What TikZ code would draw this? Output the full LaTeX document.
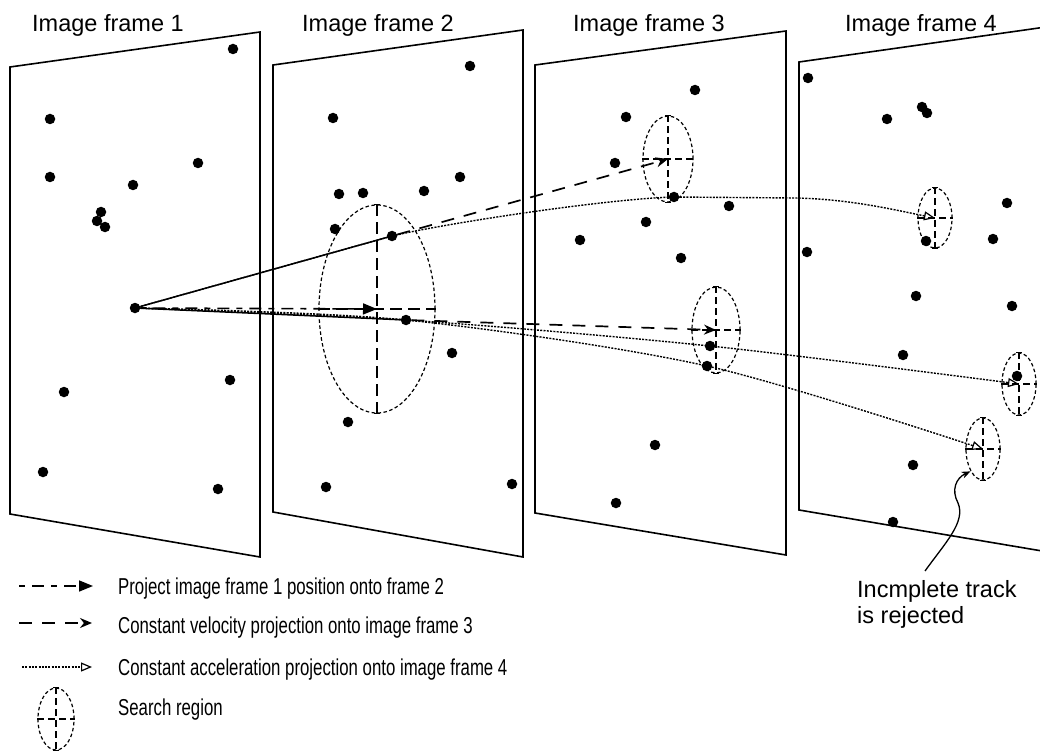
\documentclass[tikz,border=0pt]{standalone}
\usepackage{fontspec}
\setmainfont{Liberation Sans}
\newfontfamily\legendfont[FakeStretch=0.73]{Liberation Sans}
\usetikzlibrary{arrows.meta,shapes.geometric}
\tikzset{
  dot/.style={circle, fill=black, inner sep=0pt, minimum size=10.5pt},
  framebox/.style={line width=1.6pt, line join=miter},
  frameleft/.style={line width=2.8pt},
  title/.style={anchor=base west, inner sep=0pt, font=\fontsize{23.5}{28}\selectfont},
  legtext/.style={anchor=base west, inner sep=0pt, font=\legendfont\fontsize{23}{26}\selectfont},
  sregion/.style={ellipse, draw, line width=1.2pt, dash pattern=on 3.5pt off 2.5pt, inner sep=0pt},
  cross/.style={line width=1.2pt, dash pattern=on 7pt off 4pt},
  bigcross/.style={line width=1.3pt, dash pattern=on 12pt off 6pt},
  projline/.style={line width=1.6pt, dash pattern=on 6pt off 7pt on 12pt off 7pt, -{Triangle[length=14pt,width=11pt]}},
  velline/.style={line width=1.7pt, dash pattern=on 13pt off 10pt, -{Stealth[length=12pt,width=10pt]}},
  accline/.style={line width=1.4pt, dash pattern=on 2pt off 1.3pt, -{Triangle[open,length=11pt,width=9pt,line width=1.2pt]}},
  track/.style={line width=1.5pt},
  tick/.style={line width=1.2pt},
}
\newcommand\mysrchcross[2][cross]{%
  \draw[#1] (#2.north) -- (#2.south);
  \draw[#1] (#2.west) -- (#2.east);
  \draw[tick] ([xshift=-3pt]#2.north) -- ([xshift=3pt]#2.north);
  \draw[tick] ([xshift=-3pt]#2.south) -- ([xshift=3pt]#2.south);
}
\begin{document}
\begin{tikzpicture}[x=1pt,y=-1pt]
\useasboundingbox (0,0) rectangle (1040,751);
\clip (0,0) rectangle (1040,751);

% frames
\draw[framebox] (10,67) -- (260,32) -- (260,557) -- (10,514) -- cycle;
\draw[frameleft] (10,67) -- (10,514);
\draw[framebox] (273,65) -- (523,30) -- (523,557) -- (273,512) -- cycle;
\draw[frameleft] (273,65) -- (273,512);
\draw[framebox] (535,65) -- (786,31) -- (786,555) -- (535,513) -- cycle;
\draw[frameleft] (535,65) -- (535,513);
\draw[framebox] (1060,25) -- (799,62) -- (799,510) -- (1060,554);
\draw[frameleft] (799,62) -- (799,510);

% titles
\node[title] (T1) at (32,32) {Image frame 1};
\node[title] (T2) at (302,32) {Image frame 2};
\node[title] (T3) at (573,32) {Image frame 3};
\node[title] (T4) at (845,32) {Image frame 4};

% frame 1 dots
\node[dot] (f1a) at (233,49) {};
\node[dot] (f1b) at (50,119) {};
\node[dot] (f1c) at (50,177) {};
\node[dot] (f1d) at (133,185) {};
\node[dot] (f1e) at (198,163) {};
\node[dot] (f1f) at (101,212) {};
\node[dot] (f1g) at (97,221) {};
\node[dot] (f1h) at (105,227) {};
\node[dot] (p1) at (135,308) {};
\node[dot] (f1i) at (64,392) {};
\node[dot] (f1j) at (230,380) {};
\node[dot] (f1k) at (43,472) {};
\node[dot] (f1l) at (218,489) {};

% frame 2 dots
\node[dot] (f2a) at (470,66) {};
\node[dot] (f2b) at (333,118) {};
\node[dot] (f2c) at (460,177) {};
\node[dot] (f2d) at (339,194) {};
\node[dot] (f2e) at (363,193) {};
\node[dot] (f2f) at (424,191) {};
\node[dot] (f2g) at (335,229) {};
\node[dot] (d2a) at (392,236) {};
\node[dot] (d2b) at (406,320) {};
\node[dot] (f2h) at (452,353) {};
\node[dot] (f2i) at (348,422) {};
\node[dot] (f2j) at (326,487) {};
\node[dot] (f2k) at (512,484) {};

% frame 3 dots
\node[dot] (f3a) at (695,90) {};
\node[dot] (f3b) at (626,117) {};
\node[dot] (f3c) at (615,163) {};
\node[dot] (d3a) at (674,197) {};
\node[dot] (f3d) at (729,206) {};
\node[dot] (f3e) at (646,222) {};
\node[dot] (f3f) at (580,240) {};
\node[dot] (f3g) at (681,258) {};
\node[dot] (d3b) at (710,346) {};
\node[dot] (d3c) at (707,366) {};
\node[dot] (f3h) at (655,445) {};
\node[dot] (f3i) at (616,503) {};

% frame 4 dots
\node[dot] (f4a) at (808,78) {};
\node[dot] (f4b) at (887,119) {};
\node[dot] (f4c) at (922,107) {};
\node[dot] (f4d) at (927,113) {};
\node[dot] (f4e) at (1007,203) {};
\node[dot] (f4f) at (993,239) {};
\node[dot] (f4g) at (926,241) {};
\node[dot] (f4h) at (807,252) {};
\node[dot] (f4i) at (916,296) {};
\node[dot] (f4j) at (1012,306) {};
\node[dot] (f4k) at (903,355) {};
\node[dot] (f4l) at (1017,376) {};
\node[dot] (f4m) at (913,465) {};
\node[dot] (f4n) at (893,522) {};

% search regions
\node[sregion, minimum width=116, minimum height=208] (e2) at (377,309) {};
\mysrchcross[bigcross]{e2}
\node[sregion, minimum width=50, minimum height=86] (e3a) at (668,159) {};
\mysrchcross{e3a}
\node[sregion, minimum width=48, minimum height=86] (e3b) at (716,330) {};
\mysrchcross{e3b}
\node[sregion, minimum width=34, minimum height=60] (e4a) at (935,218) {};
\mysrchcross{e4a}
\node[sregion, minimum width=34, minimum height=62] (e4b) at (1019,384) {};
\mysrchcross{e4b}
\node[sregion, minimum width=34, minimum height=62] (e4c) at (983,449) {};
\mysrchcross{e4c}

% tracks frame 1 -> frame 2
\draw[track] (p1) -- (d2a);
\draw[track] (p1) -- (d2b);
% projection onto frame 2
\draw[projline] (p1) -- (e2.center);
% constant velocity onto frame 3
\draw[velline] (d2a) -- (e3a.center);
\draw[velline] (d2b) -- (e3b.center);
% constant acceleration onto frame 4
\coordinate (bend) at (795,198);
\draw[accline] (p1.center) -- (d2a.center) .. controls +(50,-12) and +(-70,2) .. (d3a.center) -- (bend) .. controls +(55,1) and +(-40,-8) .. (e4a.center);
\draw[accline] plot[smooth, tension=0.5] coordinates {(p1.center) (d2b.center) (d3b.center) (e4b.center)};
\draw[accline] plot[smooth, tension=0.5] coordinates {(p1.center) (d2b.center) (d3c.center) (e4c.center)};

% rejected annotation
\node[title] (rej1) at (857,597) {Incmplete track};
\node[title] (rej2) at (857,623) {is rejected};
\coordinate (rejtail) at (925,571);
\draw[line width=1.3pt, -{Stealth[length=9pt,width=7pt]}] (rejtail) .. controls (945,543) and (966,522) .. (958,503) .. controls (951,490) and (956,478) .. (e4c.south west);

% legend
\coordinate (l1a) at (19,586); \coordinate (l1b) at (93,586);
\draw[projline] (l1a) -- (l1b);
\coordinate (l2a) at (19,623); \coordinate (l2b) at (92,623);
\draw[velline] (l2a) -- (l2b);
\coordinate (l3a) at (22,667); \coordinate (l3b) at (92,667);
\draw[accline] (l3a) -- (l3b);
\node[sregion, minimum width=36, minimum height=62] (lge) at (56,719) {};
\mysrchcross{lge}
\node[legtext] (t1) at (118,594) {Project image frame 1 position onto frame 2};
\node[legtext] (t2) at (118,633) {Constant velocity projection onto image frame 3};
\node[legtext] (t3) at (118,675) {Constant acceleration projection onto image frame 4};
\node[legtext] (t4) at (118,715) {Search region};
\end{tikzpicture}
\end{document}
